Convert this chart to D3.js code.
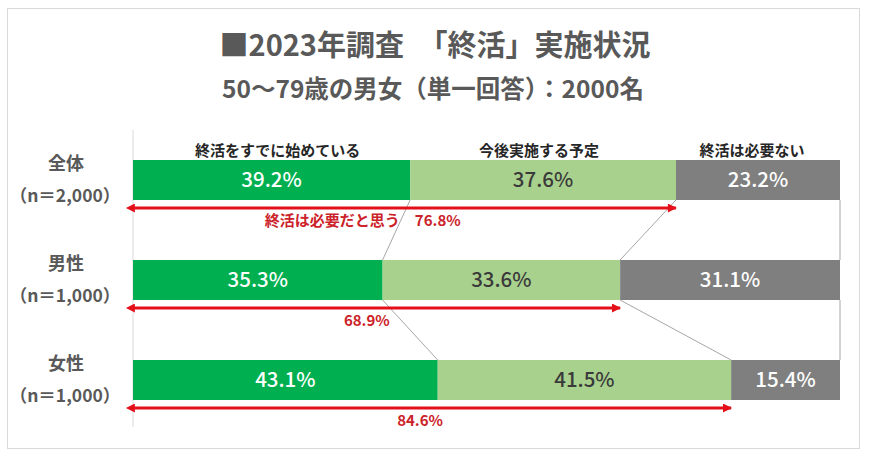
<!DOCTYPE html>
<html>
<head>
<meta charset="utf-8">
<script src="https://cdn.jsdelivr.net/npm/d3@7"></script>
<style>
  body { margin: 0; background: #fff; }
  text { font-family: "Noto Sans CJK JP", "Noto Sans", sans-serif; }
</style>
</head>
<body>
<div id="chart"></div>
<script>
const WIDTH = 870;
const HEIGHT = 457;
const TITLE = '■2023年調査　「終活」実施状況';
const SUB_TITLE = '50～79歳の男女（単一回答）：2000名';

// data
const CATEGORIES = ['全体', '男性', '女性'];
const SAMPLE_SIZES = ['（n＝2,000）', '（n＝1,000）', '（n＝1,000）'];
const SERIES = ['終活をすでに始めている', '今後実施する予定', '終活は必要ない'];
const STARTED = [39.2, 35.3, 43.1];
const PLANNED = [37.6, 33.6, 41.5];
const NOT_NEEDED = [23.2, 31.1, 15.4];
const NEEDED_TOTAL = [76.8, 68.9, 84.6];
const NEEDED_CAPTION = '終活は必要だと思う';

const COLORS = ['#00B050', '#A9D18E', '#7F7F7F'];
const VALUE_COLORS = ['#ffffff', '#3a3a3a', '#ffffff'];
const RED = '#E3101A';
const RED_TEXT = '#CC2229';
const BAR_HEIGHT = 40;

const rows = CATEGORIES.map((c, i) => ({
  category: c,
  n: SAMPLE_SIZES[i],
  [SERIES[0]]: STARTED[i],
  [SERIES[1]]: PLANNED[i],
  [SERIES[2]]: NOT_NEEDED[i],
  total: NEEDED_TOTAL[i]
}));

const stacked = d3.stack().keys(SERIES)(rows);

const X = d3.scaleLinear().domain([0, 100]).range([133, 840]);
const Y = d3.scalePoint().domain(CATEGORIES).range([180, 380]);

const svg = d3.select('#chart').append('svg')
  .attr('width', WIDTH)
  .attr('height', HEIGHT);

// frame
svg.append('rect')
  .attr('x', 7.5).attr('y', 8.5)
  .attr('width', 852).attr('height', 440)
  .attr('fill', '#fff')
  .attr('stroke', '#d9d9d9');

// titles
svg.append('text')
  .attr('x', 435).attr('y', 56)
  .attr('text-anchor', 'middle')
  .attr('fill', '#595959')
  .style('font-size', '29px')
  .style('font-weight', 'bold')
  .text(TITLE);

svg.append('text')
  .attr('x', 433).attr('y', 98)
  .attr('text-anchor', 'middle')
  .attr('fill', '#595959')
  .style('font-size', '24.5px')
  .style('font-weight', 'bold')
  .text(SUB_TITLE);

// y axis line
svg.append('line')
  .attr('x1', X(0)).attr('x2', X(0))
  .attr('y1', 130).attr('y2', 427)
  .attr('stroke', '#d9d9d9');

// series lines between bars
const connectors = [];
for (let i = 0; i < CATEGORIES.length - 1; i++) {
  stacked.forEach(s => {
    connectors.push({
      x1: X(s[i][1]), y1: Y(CATEGORIES[i]) + BAR_HEIGHT / 2,
      x2: X(s[i + 1][1]), y2: Y(CATEGORIES[i + 1]) - BAR_HEIGHT / 2
    });
  });
}
svg.append('g').selectAll('line')
  .data(connectors)
  .enter()
  .append('line')
  .attr('x1', d => d.x1).attr('y1', d => d.y1)
  .attr('x2', d => d.x2).attr('y2', d => d.y2)
  .attr('stroke', '#a6a6a6')
  .attr('stroke-width', 1);

// bars
const groups = svg.append('g').selectAll('g')
  .data(stacked)
  .enter()
  .append('g')
  .attr('fill', (_, i) => COLORS[i]);

groups.selectAll('rect')
  .data(d => d)
  .enter()
  .append('rect')
  .attr('x', d => X(d[0]))
  .attr('y', d => Y(d.data.category) - BAR_HEIGHT / 2)
  .attr('width', d => X(d[1]) - X(d[0]))
  .attr('height', BAR_HEIGHT);

// value labels
stacked.forEach((s, si) => {
  svg.append('g').selectAll('text')
    .data(s)
    .enter()
    .append('text')
    .attr('x', d => X((d[0] + d[1]) / 2))
    .attr('y', d => Y(d.data.category) + 7)
    .attr('text-anchor', 'middle')
    .attr('fill', VALUE_COLORS[si])
    .style('font-size', '20.5px')
    .style('font-weight', 500)
    .text(d => `${(d[1] - d[0]).toFixed(1)}%`);
});

// series names above first bar
svg.append('g').selectAll('text')
  .data(stacked)
  .enter()
  .append('text')
  .attr('x', s => X((s[0][0] + s[0][1]) / 2) + [6, -4, -6][s.index])
  .attr('y', Y(CATEGORIES[0]) - BAR_HEIGHT / 2 - 4)
  .attr('text-anchor', 'middle')
  .attr('fill', '#262626')
  .style('font-size', '15px')
  .style('font-weight', 'bold')
  .text(s => s.key);

// category labels
const catLabels = svg.append('g').selectAll('g')
  .data(rows)
  .enter()
  .append('g')
  .attr('fill', '#595959')
  .style('font-weight', 'bold');

catLabels.append('text')
  .attr('x', 66)
  .attr('y', d => Y(d.category) - 10)
  .attr('text-anchor', 'middle')
  .style('font-size', '18px')
  .text(d => d.category);

catLabels.append('text')
  .attr('x', 65)
  .attr('y', d => Y(d.category) + 22)
  .attr('text-anchor', 'middle')
  .style('font-size', '17.5px')
  .text(d => d.n);

// red double arrows
const defs = svg.append('defs');
['start', 'end'].forEach(k => {
  defs.append('marker')
    .attr('id', `arrow-${k}`)
    .attr('viewBox', '0 0 10 10')
    .attr('refX', k === 'end' ? 9 : 1).attr('refY', 5)
    .attr('markerWidth', 4).attr('markerHeight', 3)
    .attr('markerUnits', 'strokeWidth')
    .attr('orient', 'auto-start-reverse')
    .append('path')
    .attr('d', 'M0,0 L10,5 L0,10 Z')
    .attr('fill', RED);
});

svg.append('g').selectAll('line')
  .data(rows)
  .enter()
  .append('line')
  .attr('x1', X(0) + 1)
  .attr('x2', d => X(d.total))
  .attr('y1', d => Y(d.category) + BAR_HEIGHT / 2 + 8)
  .attr('y2', d => Y(d.category) + BAR_HEIGHT / 2 + 8)
  .attr('stroke', RED)
  .attr('stroke-width', 3)
  .attr('marker-start', 'url(#arrow-start)')
  .attr('marker-end', 'url(#arrow-end)');

// total labels
svg.append('g').selectAll('text')
  .data(rows)
  .enter()
  .append('text')
  .attr('x', (d, i) => i === 0 ? X(32.5) : X(d.total * 0.48))
  .attr('y', d => Y(d.category) + BAR_HEIGHT / 2 + 26)
  .attr('text-anchor', 'middle')
  .attr('fill', RED_TEXT)
  .style('font-size', '15px')
  .style('font-weight', 'bold')
  .text((d, i) => i === 0 ? `${NEEDED_CAPTION}　${d.total}%` : `${d.total}%`);
</script>
</body>
</html>
